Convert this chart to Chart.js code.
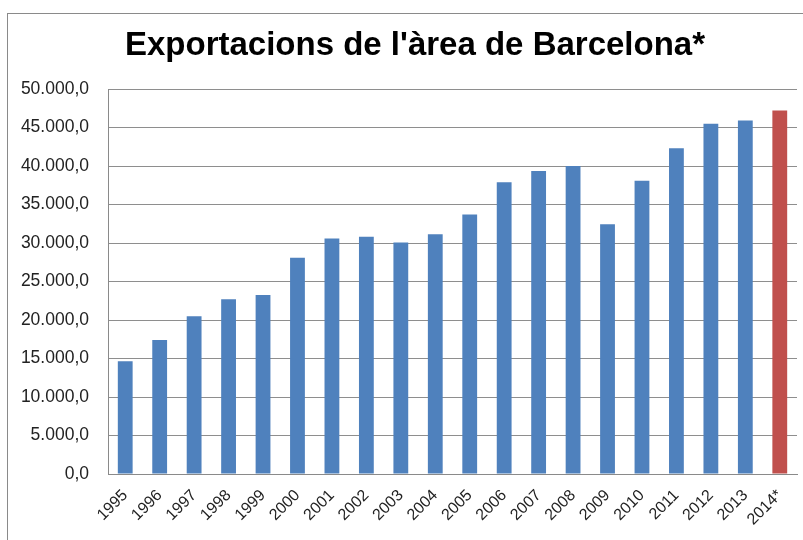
<!DOCTYPE html>
<html>
<head>
<meta charset="utf-8">
<script src="https://cdn.jsdelivr.net/npm/chart.js@4"></script>
<style>
  body { margin: 0; background: #fff; overflow: hidden; }
</style>
</head>
<body>
<canvas id="myChart" width="803" height="540"></canvas>
<script>
// chart data
const chartTitle = "Exportacions de l'àrea de Barcelona*";
const years = ['1995', '1996', '1997', '1998', '1999', '2000', '2001', '2002', '2003', '2004',
  '2005', '2006', '2007', '2008', '2009', '2010', '2011', '2012', '2013', '2014*'];
const exportsValues = [14650, 17400, 20500, 22700, 23250, 28100, 30600, 30800, 30050, 31150,
  33700, 37900, 39350, 40000, 32450, 38100, 42300, 45500, 45900, 47200];
const barColors = years.map(y => y.endsWith('*') ? '#C0504D' : '#4F81BD');

function fmt(v) {
  return v.toFixed(1).replace('.', ',').replace(/\B(?=(\d{3})+(?!\d))/g, '.');
}

// outer frame + title, placed like the spreadsheet chart box
const framePlugin = {
  id: 'frame',
  beforeDraw(chart) {
    const c = chart.ctx;
    c.save();
    c.fillStyle = '#fff';
    c.fillRect(0, 0, chart.width, chart.height);
    c.strokeStyle = '#8a8a8a';
    c.lineWidth = 1;
    c.strokeRect(7.5, 13.5, 900, 600);
    c.fillStyle = '#000';
    c.font = 'bold 33px "Liberation Sans"';
    c.textAlign = 'center';
    c.textBaseline = 'middle';
    c.fillText(chartTitle, 415, 46);
    c.restore();
  }
};

const ctx = document.getElementById('myChart');

new Chart(ctx, {
  type: 'bar',
  data: {
    labels: years,
    datasets: [{
      data: exportsValues,
      backgroundColor: barColors,
      borderWidth: 0,
      barPercentage: 0.43,
      categoryPercentage: 1
    }]
  },
  options: {
    responsive: false,
    animation: false,
    layout: { padding: { left: 0, right: 6, top: 89, bottom: 0 } },
    plugins: {
      legend: { display: false },
      tooltip: { enabled: false },
      title: { display: false }
    },
    scales: {
      x: {
        grid: { display: false },
        border: { color: '#8a8a8a' },
        ticks: {
          color: '#222',
          font: { family: 'Liberation Sans', size: 16 },
          minRotation: 45,
          maxRotation: 45,
          autoSkip: false,
          padding: 4
        },
        afterFit(scale) { scale.height = 66; }
      },
      y: {
        min: 0,
        max: 50000,
        grid: { color: '#8e8e8e', drawTicks: false },
        border: { color: '#8a8a8a' },
        ticks: {
          stepSize: 5000,
          color: '#222',
          font: { family: 'Liberation Sans', size: 17.5 },
          padding: 19,
          callback: v => fmt(v)
        },
        afterFit(scale) { scale.width = 108; }
      }
    }
  },
  plugins: [framePlugin]
});
</script>
</body>
</html>
